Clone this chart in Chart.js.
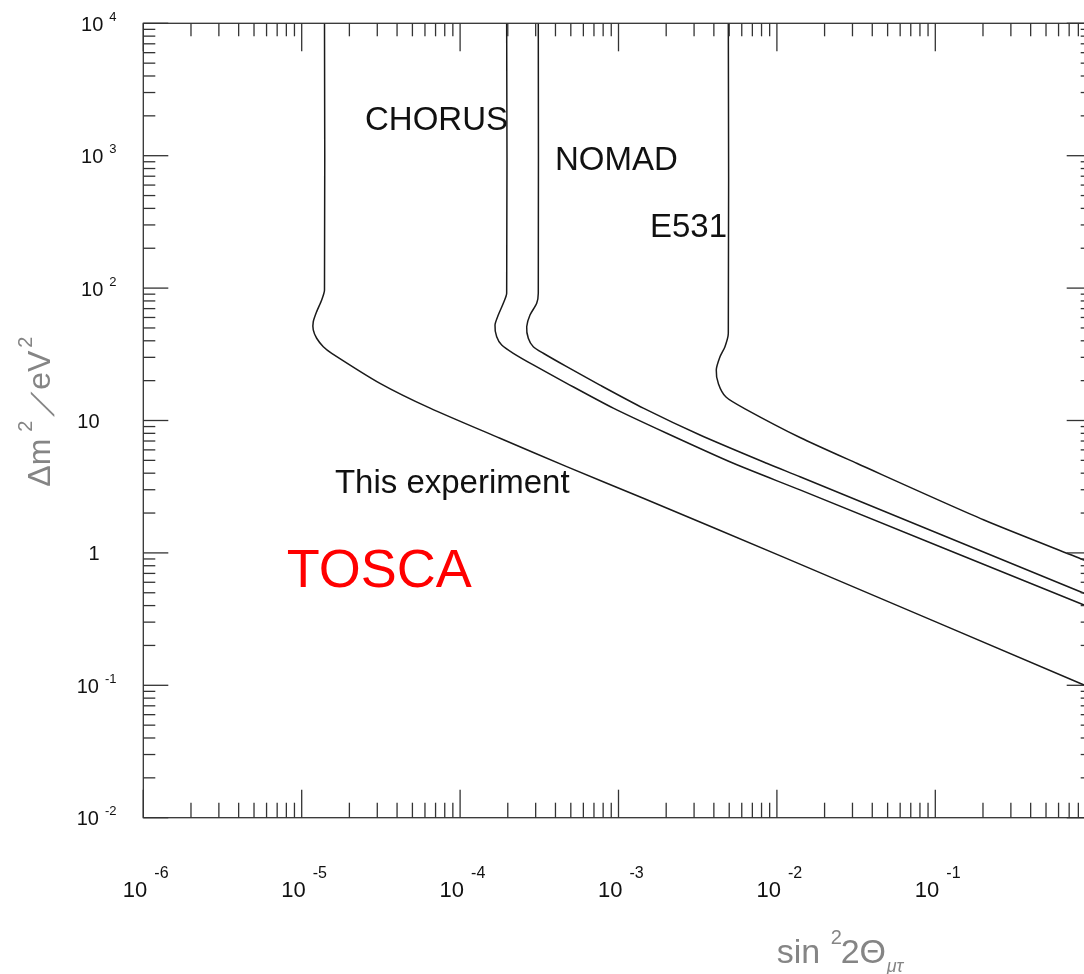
<!DOCTYPE html>
<html><head><meta charset="utf-8">
<script src="https://cdn.jsdelivr.net/npm/chart.js@4.4.0/dist/chart.umd.min.js"></script>
<style>
html,body{margin:0;padding:0;background:#fff;overflow:hidden;width:1084px;height:974px}
#wrap{position:absolute;left:0;top:0;width:1100px;height:974px}
</style>
</head><body><div id="wrap"><canvas id="c" width="1100" height="974"></canvas></div>
<script>
// ---- data: x = sin^2 2theta, y = delta m^2 (eV^2) ----
const toscaX  = [1.393e-5, 1.393e-5, 1.337e-5, 1.243e-5, 1.183e-5, 1.183e-5, 1.243e-5, 1.369e-5, 1.547e-5, 3.121e-5, 6.46e-5, 1.786e-4, 4.71e-4, 1.434e-3, 1.109e-2, 0.869, 1];
const toscaY  = [1e4, 96.7, 81.3, 66.4, 55.7, 48.3, 41.8, 36.1, 32.2, 19.1, 12.4, 7.34, 4.48, 2.585, 0.926, 0.1005, 0.0935];
const chorusX = [1.968e-4, 1.968e-4, 1.874e-4, 1.742e-4, 1.661e-4, 1.702e-4, 1.831e-4, 2.168e-4, 2.898e-4, 4.71e-4, 9.27e-4, 2.015e-3, 5.31e-3, 0.01399, 0.869, 1];
const chorusY = [1e4, 91.3, 76.8, 62.6, 52.6, 42.9, 37.2, 32.2, 26.3, 19.1, 12.4, 8.01, 4.75, 2.99, 0.404, 0.377];
const nomadX  = [3.116e-4, 3.116e-4, 3.045e-4, 2.762e-4, 2.633e-4, 2.695e-4, 2.898e-4, 3.352e-4, 4.71e-4, 7.64e-4, 1.434e-3, 3.27e-3, 8.62e-3, 0.01399, 0.869, 1];
const nomadY  = [1e4, 91.3, 76.8, 62.6, 51.1, 41.8, 36.1, 32.2, 25.5, 18.5, 12.4, 7.77, 4.75, 3.76, 0.4954, 0.462];
const e531X   = [4.935e-3, 4.935e-3, 4.70e-3, 4.373e-3, 4.143e-3, 4.278e-3, 4.771e-3, 6.29e-3, 0.01399, 0.0319, 0.203, 0.869, 1];
const e531Y   = [1e4, 45.6, 36.1, 30.3, 24.1, 18.9, 15.05, 12.26, 7.44, 4.75, 1.772, 0.884, 0.824];

const curveNames = ['This experiment', 'CHORUS', 'NOMAD', 'E531'];

// ---- annotations (text, anchored at data x / data y baseline) ----
const labelTexts = ['CHORUS', 'NOMAD', 'E531', 'This experiment', 'TOSCA'];
const labelX     = [2.51e-5, 3.97e-4, 1.58e-3, 1.62e-5, 8.04e-6];
const labelY     = [1563, 780, 244, 2.82, 0.556];

// ---- tick labels ----
const xTickValues = [1e-6, 1e-5, 1e-4, 1e-3, 1e-2, 1e-1];
const xTickBase   = ['10', '10', '10', '10', '10', '10'];
const xTickExp    = ['-6', '-5', '-4', '-3', '-2', '-1'];
const yTickValues = [1e4, 1e3, 1e2, 10, 1, 0.1, 0.01];
const yTickBase   = ['10', '10', '10', '10', '1', '10', '10'];
const yTickExp    = ['4', '3', '2', '', '', '-1', '-2'];

const FONT = '"Liberation Sans", Arial, Helvetica, sans-serif';

function pts(xs, ys){ return xs.map((v,i)=>({x:v, y:ys[i]})); }
const series = [[toscaX,toscaY],[chorusX,chorusY],[nomadX,nomadY],[e531X,e531Y]];

const framePlugin = {
  id: 'frameTicks',
  afterDraw(chart){
    const {ctx, chartArea:a, scales:{x, y}} = chart;
    ctx.save();
    ctx.strokeStyle = '#333';
    ctx.lineWidth = 1.3;
    ctx.strokeRect(a.left, a.top, a.right - a.left, a.bottom - a.top);
    const line = (x1,y1,x2,y2)=>{ctx.beginPath();ctx.moveTo(x1,y1);ctx.lineTo(x2,y2);ctx.stroke();};
    for (let d = -6; d <= 0; d++) {
      for (let k = 1; k <= 9; k++) {
        const v = k * Number('1e' + d);
        if (v < x.min * 0.999 || v > x.max * 1.001) continue;
        const px = x.getPixelForValue(v);
        const major = k === 1;
        line(px, a.bottom, px, a.bottom - (major ? 28 : 15));
        line(px, a.top, px, a.top + (major ? 28 : 13));
      }
    }
    for (let d = -2; d <= 4; d++) {
      for (let k = 1; k <= 9; k++) {
        const v = k * Number('1e' + d);
        if (v < y.min * 0.999 || v > y.max * 1.001) continue;
        const py = y.getPixelForValue(v);
        const major = k === 1;
        line(a.left, py, a.left + (major ? 25 : 12), py);
        line(a.right, py, a.right - (major ? 27 : 13), py);
      }
    }
    // x tick labels
    ctx.fillStyle = '#111';
    ctx.textBaseline = 'alphabetic';
    xTickValues.forEach((v,i)=>{
      const px = x.getPixelForValue(v);
      ctx.textAlign = 'left';
      ctx.font = '22px ' + FONT;
      ctx.fillText(xTickBase[i], px - 20.5, a.bottom + 79);
      ctx.font = '16px ' + FONT;
      ctx.fillText(xTickExp[i], px + 11, a.bottom + 60.5);
    });
    // y tick labels
    yTickValues.forEach((v,i)=>{
      const py = y.getPixelForValue(v);
      if (yTickExp[i]) {
        ctx.font = '13px ' + FONT;
        const ew = ctx.measureText(yTickExp[i]).width;
        const ex = 116.5 - ew;
        ctx.textAlign = 'left';
        ctx.fillText(yTickExp[i], ex, py - 2.5);
        ctx.font = '20px ' + FONT;
        ctx.textAlign = 'right';
        ctx.fillText(yTickBase[i], ex - 6, py + 7.5);
      } else {
        ctx.font = '20px ' + FONT;
        ctx.textAlign = 'right';
        ctx.fillText(yTickBase[i], 99.5, py + 7.5);
      }
    });
    // annotations
    ctx.textAlign = 'left';
    labelTexts.forEach((t,i)=>{
      const px = x.getPixelForValue(labelX[i]);
      const py = y.getPixelForValue(labelY[i]);
      if (t === 'TOSCA') { ctx.fillStyle = '#ff0000'; ctx.font = '54px ' + FONT; }
      else { ctx.fillStyle = '#111'; ctx.font = '33px ' + FONT; }
      ctx.fillText(t, px, py);
    });
    // x axis title: sin^2 2Θ_{μτ}
    ctx.fillStyle = '#858585';
    ctx.textAlign = 'left';
    const tx = 776.7, tb = 963.3;
    ctx.font = '34px ' + FONT;
    ctx.fillText('sin', tx, tb);
    ctx.font = '20px ' + FONT;
    ctx.fillText('2', tx + 54, tb - 19);
    ctx.font = '34px ' + FONT;
    ctx.fillText('2Θ', tx + 64, tb);
    ctx.font = 'italic 18px ' + FONT;
    ctx.fillText('μτ', tx + 110, tb + 8.5);
    // y axis title: Δm^2/eV^2 (rotated)
    ctx.save();
    ctx.translate(50, 486.7);
    ctx.rotate(-Math.PI/2);
    ctx.font = '32px ' + FONT;
    ctx.fillText('Δm', 0, 0);
    ctx.font = '20px ' + FONT;
    ctx.fillText('2', 55, -18);
    ctx.save();
    ctx.translate(70, 4);
    ctx.transform(1, 0, -0.7, 1, 0, 0);
    ctx.font = '32px ' + FONT;
    ctx.fillText('/', 0, 0);
    ctx.restore();
    ctx.font = '32px ' + FONT;
    ctx.fillText('eV', 97, 0);
    ctx.font = '20px ' + FONT;
    ctx.fillText('2', 139, -18);
    ctx.restore();
    ctx.restore();
  }
};

new Chart(document.getElementById('c'), {
  type: 'line',
  data: {
    datasets: series.map((s,i)=>({
      label: curveNames[i],
      data: pts(s[0], s[1]),
      borderColor: '#1a1a1a',
      borderWidth: 1.5,
      pointRadius: 0,
      tension: 0.25,
      fill: false
    }))
  },
  options: {
    responsive: false,
    animation: false,
    devicePixelRatio: 1,
    layout: { padding: { left: 143.3, right: 6.3, top: 23.3, bottom: 156.3 } },
    plugins: { legend: { display: false }, tooltip: { enabled: false } },
    scales: {
      x: { type: 'logarithmic', min: 1e-6, max: 1, display: false },
      y: { type: 'logarithmic', min: 1e-2, max: 1e4, display: false }
    }
  },
  plugins: [framePlugin]
});
</script>
</body></html>
